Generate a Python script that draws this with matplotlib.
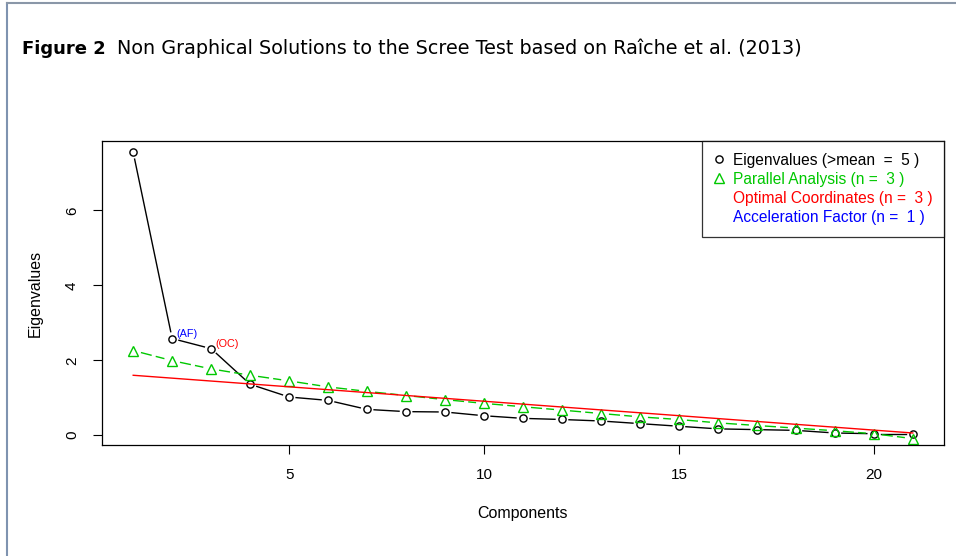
import matplotlib
matplotlib.use("Agg")
import matplotlib.pyplot as plt
from matplotlib.lines import Line2D
import numpy as np

# values
components = list(range(1, 22))
eigenvalues = [7.55, 2.58, 2.31, 1.36, 1.02, 0.93, 0.69, 0.63, 0.62, 0.52, 0.45,
               0.42, 0.38, 0.31, 0.24, 0.17, 0.15, 0.13, 0.06, 0.04, 0.04]
parallel = [2.26, 1.99, 1.77, 1.60, 1.45, 1.29, 1.17, 1.06, 0.95, 0.85, 0.76,
            0.67, 0.58, 0.49, 0.42, 0.33, 0.26, 0.19, 0.12, 0.04, -0.09]
oc_x = [1, 21]
oc_y = [1.60, 0.06]
af_n = 1
oc_n = 3
legend_labels = ["Eigenvalues (>mean  =  5 )", "Parallel Analysis (n =  3 )",
                 "Optimal Coordinates (n =  3 )", "Acceleration Factor (n =  1 )"]
xticks = [5, 10, 15, 20]
yticks = [0, 2, 4, 6]

GREEN = "#00c800"
legend_colors = ["black", GREEN, "red", "blue"]

plt.rcParams["font.family"] = ["Liberation Sans", "DejaVu Sans"]

W, H = 956, 556
fig = plt.figure(figsize=(W / 100, H / 100), dpi=100)
ax = fig.add_axes([102 / W, 1 - 445 / H, (944 - 102) / W, (445 - 141) / H])

# R style axis ranges (4% extension)
xr = max(components) - min(components)
ax.set_xlim(min(components) - 0.04 * xr, max(components) + 0.04 * xr)
yr = max(eigenvalues) - min(eigenvalues)
ax.set_ylim(min(eigenvalues) - 0.04 * yr, max(eigenvalues) + 0.04 * yr)


def gapped(ax, x, y, gap, **kw):
    # like R type="b": line segments stop short of the points
    pts = ax.transData.transform(np.column_stack([x, y]))
    inv = ax.transData.inverted()
    for p, q in zip(pts[:-1], pts[1:]):
        d = q - p
        n = np.hypot(*d)
        if n <= 2 * gap:
            continue
        u = d / n
        seg = inv.transform([p + u * gap, q - u * gap])
        ax.plot(seg[:, 0], seg[:, 1], **kw)


gapped(ax, components, eigenvalues, 7, color="black", lw=1)
ax.plot(components, eigenvalues, ls="none", marker="o", ms=5.2, mfc="none",
        mec="black", mew=1)

gapped(ax, components, parallel, 8, color=GREEN, lw=1, dashes=(8, 3))
ax.plot(components, parallel, ls="none", marker="^", ms=6.5, mfc="none",
        mec=GREEN, mew=1)

ax.plot(oc_x, oc_y, color="red", lw=1)

ax.annotate("(AF)", (components[af_n], eigenvalues[af_n]), xytext=(3, 3),
            textcoords="offset points", color="blue", fontsize=7.8,
            ha="left", va="center")
ax.annotate("(OC)", (components[oc_n - 1], eigenvalues[oc_n - 1]), xytext=(3, 3),
            textcoords="offset points", color="red", fontsize=7.8,
            ha="left", va="center")

ax.set_xticks(xticks)
ax.set_yticks(yticks)
ax.tick_params(length=6.5, width=0.8, labelsize=11, pad=10)
for lab in ax.get_yticklabels():
    lab.set_rotation(90)
    lab.set_va("center")
for s in ax.spines.values():
    s.set_linewidth(0.9)
ax.set_xlabel("Components", fontsize=11.5, labelpad=17)
ax.set_ylabel("Eigenvalues", fontsize=11.5, labelpad=16)

handles = [
    Line2D([], [], ls="none", marker="o", ms=5.2, mfc="none", mec="black"),
    Line2D([], [], ls="none", marker="^", ms=6.5, mfc="none", mec=GREEN),
    Line2D([], [], ls="none"),
    Line2D([], [], ls="none"),
]
leg = ax.legend(handles, legend_labels, loc="upper right", borderaxespad=0,
                fontsize=11.2, frameon=True, fancybox=False, edgecolor="black",
                handlelength=0.7, handletextpad=0.5, labelspacing=0.27,
                borderpad=0.75)
leg.get_frame().set_linewidth(0.9)
for t, c in zip(leg.get_texts(), legend_colors):
    t.set_color(c)

# title in the document style
fig.text(22 / W, 1 - 54 / H, "Figure 2", fontsize=13, fontweight="bold",
         family="DejaVu Sans", va="baseline")
fig.text(117 / W, 1 - 54 / H,
         "Non Graphical Solutions to the Scree Test based on Raîche et al. (2013)",
         fontsize=13.8, family="DejaVu Sans", va="baseline")

# page frame lines
fig.add_artist(Line2D([7 / W, 7 / W], [0, 1 - 3 / H], color="#7f93b0", lw=1.5))
fig.add_artist(Line2D([7 / W, 1], [1 - 3 / H, 1 - 3 / H], color="#8a97a8", lw=1.5))

fig.savefig("out.png", dpi=100)
